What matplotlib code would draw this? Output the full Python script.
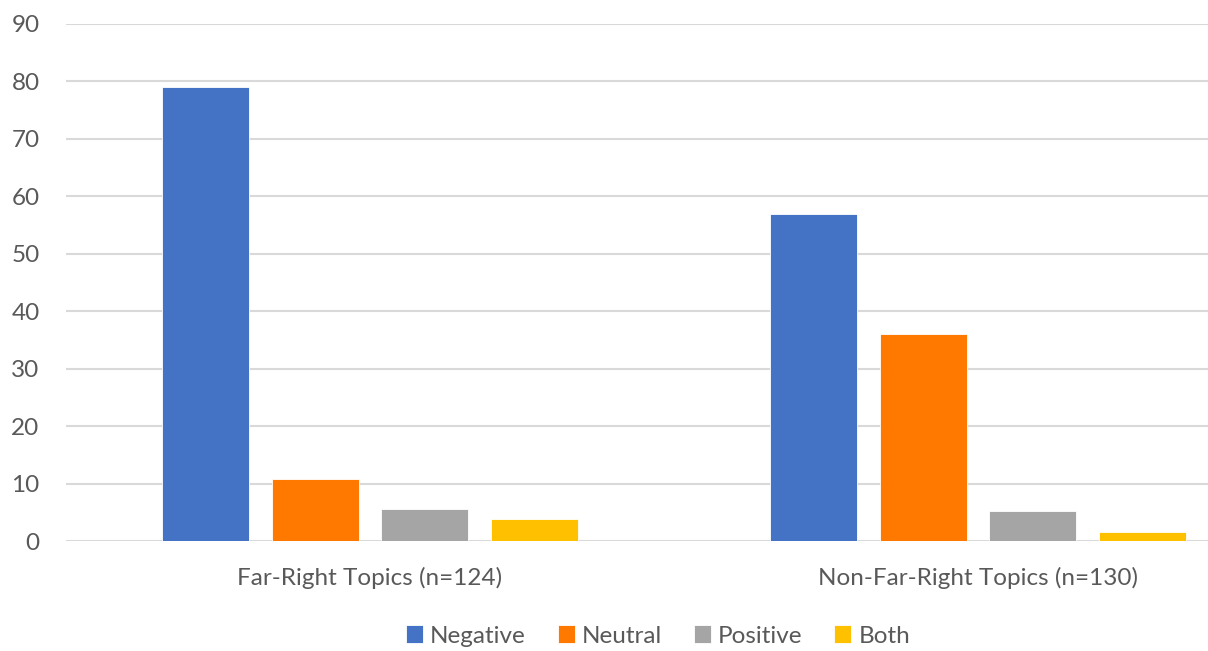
import numpy as np
import matplotlib.pyplot as plt

categories = ['Far-Right Topics (n=124)', 'Non-Far-Right Topics (n=130)']
series = ['Negative', 'Neutral', 'Positive', 'Both']
values = {
    'Negative': [79.0, 56.9],
    'Neutral': [10.8, 36.1],
    'Positive': [5.6, 5.3],
    'Both': [3.9, 1.5],
}
colors = ['#4472C4', '#FF7900', '#A5A5A5', '#FFC000']
yticks = list(range(0, 100, 10))

plt.rcParams['font.family'] = ['Lato', 'DejaVu Sans']
text_color = '#595959'
fs = 17.5

fig = plt.figure(figsize=(12.08, 6.51), dpi=100)
# plot area runs a little past the right edge of the figure
ax = fig.add_axes([66 / 1208, 110 / 651, 1216 / 1208, 517 / 651])

x = np.arange(len(categories))
width = 0.143
step = 0.18
for i, (name, c) in enumerate(zip(series, colors)):
    ax.bar(x + (i - 1.5) * step, values[name], width, color=c, label=name,
           edgecolor='white', linewidth=0.6, zorder=3)

ax.set_xlim(-0.5, 1.5)
ax.set_ylim(0, 90)
ax.set_yticks(yticks)
ax.yaxis.grid(True, color='#d9d9d9', linewidth=1.5, zorder=0)
ax.set_xticks(x)
ax.set_xticklabels(categories)
ax.tick_params(axis='both', length=0, labelsize=fs, colors=text_color)
ax.tick_params(axis='x', pad=19)
ax.tick_params(axis='y', pad=19)
for s in ax.spines.values():
    s.set_visible(False)

fig.legend(loc='center', bbox_to_anchor=(658 / 1208, 1 - 636 / 651), ncol=4,
           frameon=False, fontsize=fs, handlelength=0.7, handleheight=0.7,
           handletextpad=0.3, columnspacing=1.3, labelcolor=text_color)

fig.savefig('out.png', dpi=100)
